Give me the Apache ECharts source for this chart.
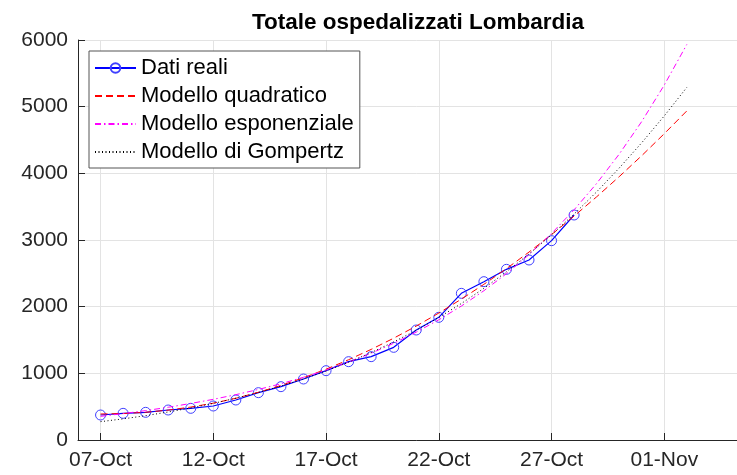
<!DOCTYPE html>
<html lang="it">
<head>
<meta charset="UTF-8">
<title>Totale ospedalizzati Lombardia</title>
<style>
  html, body { margin: 0; padding: 0; background: #fff; overflow: hidden; }
  #chart { width: 757px; height: 475px; }
</style>
</head>
<body>
<div id="chart"></div>
<script src="https://cdn.jsdelivr.net/npm/echarts@6/dist/echarts.min.js"></script>
<script>
// asse x: un giorno per categoria, 06-Oct .. 05-Nov
var days = ['06-Oct', '07-Oct', '08-Oct', '09-Oct', '10-Oct', '11-Oct', '12-Oct', '13-Oct', '14-Oct',
    '15-Oct', '16-Oct', '17-Oct', '18-Oct', '19-Oct', '20-Oct', '21-Oct', '22-Oct', '23-Oct',
    '24-Oct', '25-Oct', '26-Oct', '27-Oct', '28-Oct', '29-Oct', '30-Oct', '31-Oct', '01-Nov',
    '02-Nov', '03-Nov', '04-Nov', '05-Nov'];
var tickDays = ['07-Oct', '12-Oct', '17-Oct', '22-Oct', '27-Oct', '01-Nov'];

// dati reali dal 07-Oct al 28-Oct
var realDays = days.slice(1, 23);
var realData = [375, 400, 415, 450, 475, 510, 600, 710, 800, 915, 1040, 1175, 1250, 1390,
    1650, 1840, 2200, 2375, 2560, 2700, 2990, 3375];

// modelli dal 07-Oct al 02-Nov
var modelDays = days.slice(1, 28);
var quadModel = [390, 397, 416, 448, 494, 552, 626, 716, 818, 934, 1062, 1204, 1359, 1527,
    1709, 1904, 2113, 2335, 2570, 2819, 3081, 3359, 3648, 3950, 4265, 4595, 4937];
var expModel = [355, 396, 441, 491, 548, 610, 680, 758, 844, 941, 1049, 1169, 1302, 1451,
    1618, 1803, 2009, 2239, 2495, 2780, 3098, 3453, 3848, 4288, 4778, 5325, 5934];
var gompModel = [275, 317, 365, 420, 481, 549, 627, 713, 809, 916, 1035, 1166, 1311, 1471,
    1646, 1838, 2047, 2275, 2523, 2790, 3079, 3389, 3722, 4079, 4459, 4862, 5290];

var yTicks = [0, 1000, 2000, 3000, 4000, 5000, 6000];

function pairs(xs, ys) {
    return ys.map(function (v, i) { return [xs[i], v]; });
}
function isTick(index, value) {
    return tickDays.indexOf(days[index]) >= 0;
}

var font = 'Liberation Sans, Arial, Helvetica, sans-serif';
var axisColor = '#262626';
var noMarker = { opacity: 0 };

var option = {
    animation: false,
    backgroundColor: '#fff',
    title: {
        text: 'Totale ospedalizzati Lombardia',
        left: 413,
        top: 6,
        textAlign: 'center',
        textStyle: { fontFamily: font, fontSize: 22.5, fontWeight: 'bold', color: '#000' }
    },
    legend: {
        orient: 'vertical',
        left: 89,
        top: 51,
        padding: [6, 6, 5, 5],
        itemGap: 6,
        itemWidth: 41,
        itemHeight: 12,
        borderColor: '#555',
        borderWidth: 1,
        backgroundColor: '#fff',
        textStyle: { fontFamily: font, fontSize: 22, color: '#000', lineHeight: 22 },
        data: [
            { name: 'Dati reali' },
            { name: 'Modello quadratico', itemStyle: noMarker },
            { name: 'Modello esponenziale', itemStyle: noMarker },
            { name: 'Modello di Gompertz', itemStyle: noMarker }
        ]
    },
    grid: { left: 78, top: 40, width: 676.5, height: 400, containLabel: false },
    xAxis: {
        type: 'category',
        data: days,
        boundaryGap: false,
        axisLine: { lineStyle: { color: axisColor, width: 1 } },
        axisTick: { inside: true, length: 7, interval: isTick, lineStyle: { color: axisColor } },
        axisLabel: { interval: isTick, margin: 10, fontFamily: font, fontSize: 21, color: axisColor },
        splitLine: { show: true, interval: isTick, lineStyle: { color: '#e3e3e3', width: 1 } }
    },
    yAxis: {
        type: 'value',
        min: yTicks[0],
        max: yTicks[yTicks.length - 1],
        interval: 1000,
        axisLine: { show: true, lineStyle: { color: axisColor, width: 1 } },
        axisTick: { show: true, inside: true, length: 7, lineStyle: { color: axisColor } },
        axisLabel: {
            margin: 10, fontFamily: font, fontSize: 21, color: axisColor,
            formatter: function (v) { return String(v); }
        },
        splitLine: { show: true, lineStyle: { color: '#e3e3e3', width: 1 } }
    },
    series: [
        {
            name: 'Dati reali',
            type: 'line',
            data: pairs(realDays, realData),
            symbol: 'circle',
            symbolSize: 10,
            itemStyle: { color: 'rgba(0,0,0,0)', borderColor: '#4040ff', borderWidth: 1 },
            lineStyle: { color: '#0000ff', width: 1.2 },
            z: 2
        },
        {
            name: 'Modello quadratico',
            type: 'line',
            data: pairs(modelDays, quadModel),
            symbol: 'none',
            itemStyle: { color: '#ff0000' },
            lineStyle: { color: '#ff0000', width: 1, type: [7, 4] },
            z: 3
        },
        {
            name: 'Modello esponenziale',
            type: 'line',
            data: pairs(modelDays, expModel),
            symbol: 'none',
            itemStyle: { color: '#ff00ff' },
            lineStyle: { color: '#ff00ff', width: 1, type: [6, 3, 1.5, 3] },
            z: 3
        },
        {
            name: 'Modello di Gompertz',
            type: 'line',
            data: pairs(modelDays, gompModel),
            symbol: 'none',
            itemStyle: { color: '#000' },
            lineStyle: { color: '#000', width: 1, type: [1, 2.5] },
            z: 3
        }
    ]
};

var myChart = echarts.init(document.getElementById('chart'), null, { renderer: 'canvas' });
myChart.setOption(option);
</script>
</body>
</html>
